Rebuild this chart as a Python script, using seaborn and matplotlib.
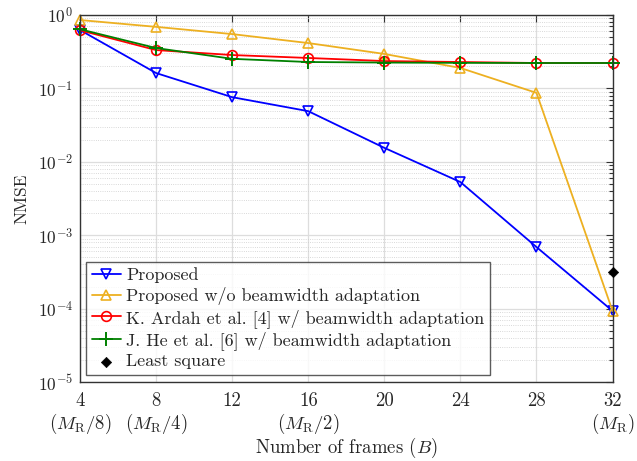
import matplotlib
matplotlib.use("Agg")
import matplotlib.pyplot as plt
import seaborn as sns
import numpy as np
import pandas as pd
from matplotlib.ticker import LogLocator, NullFormatter

frames = [4, 8, 12, 16, 20, 24, 28, 32]
proposed = [0.625, 0.162, 0.076, 0.049, 0.0155, 0.0053, 6.9e-4, 9.3e-5]
proposed_wo = [0.855, 0.69, 0.55, 0.415, 0.295, 0.19, 0.087, 9.3e-5]
ardah = [0.62, 0.333, 0.285, 0.26, 0.236, 0.229, 0.222, 0.222]
he = [0.64, 0.355, 0.253, 0.229, 0.225, 0.223, 0.222, 0.222]
ls_x = [32]
ls_y = [3.2e-4]
tick_labels = ["4\n$(M_\\mathrm{R}/8)$", "8\n$(M_\\mathrm{R}/4)$", "12", "16\n$(M_\\mathrm{R}/2)$",
               "20", "24", "28", "32\n$(M_\\mathrm{R})$"]

sns.set_theme(style="white")
plt.rcParams['font.family'] = ['cmr10', 'DejaVu Serif']
plt.rcParams['mathtext.fontset'] = 'cm'
plt.rcParams['axes.formatter.use_mathtext'] = True

fig = plt.figure(figsize=(6.37, 4.61), dpi=100)
ax = fig.add_axes([0.1256, 0.1714, 0.836, 0.796])

series = [
    ("Proposed", proposed, (0, 0, 1), 'v'),
    ("Proposed w/o beamwidth adaptation", proposed_wo, (0.93, 0.69, 0.13), '^'),
    ("K. Ardah et al. [4] w/ beamwidth adaptation", ardah, (1, 0, 0), 'o'),
    ("J. He et al. [6] w/ beamwidth adaptation", he, (0, 0.5, 0), '+'),
]
for name, vals, col, mk in series:
    df = pd.DataFrame({"B": frames, "NMSE": vals})
    kw = dict(markersize=7, markeredgewidth=1.2)
    if mk != '+':
        kw['markerfacecolor'] = 'none'
    else:
        kw['markersize'] = 10
        kw['markeredgewidth'] = 1.4
    sns.lineplot(data=df, x="B", y="NMSE", ax=ax, color=col, marker=mk,
                 markeredgecolor=col, linewidth=1.3, label=name, clip_on=False, **kw)

sns.scatterplot(x=ls_x, y=ls_y, ax=ax, marker='D', color='black', s=28,
                edgecolor='black', label="Least square", zorder=5, clip_on=False)

ax.set_yscale('log')
ax.set_ylim(1e-5, 1)
ax.set_xlim(4, 32)
ax.set_xticks(frames)
ax.set_xticklabels(tick_labels, fontsize=13.5, va='top', linespacing=1.12)
ax.yaxis.set_major_locator(LogLocator(base=10, numticks=10))
ax.yaxis.set_minor_locator(LogLocator(base=10, subs=np.arange(2, 10), numticks=10))
ax.yaxis.set_minor_formatter(NullFormatter())
ax.tick_params(axis='y', labelsize=12.5, pad=5)
ax.tick_params(axis='x', pad=7)
ax.tick_params(which='both', direction='in', top=True, right=True, length=5, width=0.8, color='#333333')
ax.tick_params(which='minor', length=3)
ax.tick_params(axis='x', which='minor', bottom=False, top=False)
ax.grid(True, which='major', color='#dddddd', linewidth=0.9, linestyle='-')
ax.grid(True, which='minor', axis='y', color='#cccccc', linewidth=0.6, linestyle=':')
for s in ax.spines.values():
    s.set_color('#333333')
    s.set_linewidth(1.0)
ax.set_xlabel("Number of frames $(B)$", fontsize=13.5, labelpad=0)
ax.set_ylabel("NMSE", fontsize=12.5, labelpad=6)

leg = ax.legend(loc='lower left', bbox_to_anchor=(0.005, 0.01), fontsize=13, frameon=True,
                fancybox=False, edgecolor='#333333', handlelength=1.6, handletextpad=0.3,
                borderpad=0.3, labelspacing=0.2, borderaxespad=0.2)
leg.get_frame().set_linewidth(1.0)
leg.set_zorder(10)

fig.savefig("out.png", dpi=100)
